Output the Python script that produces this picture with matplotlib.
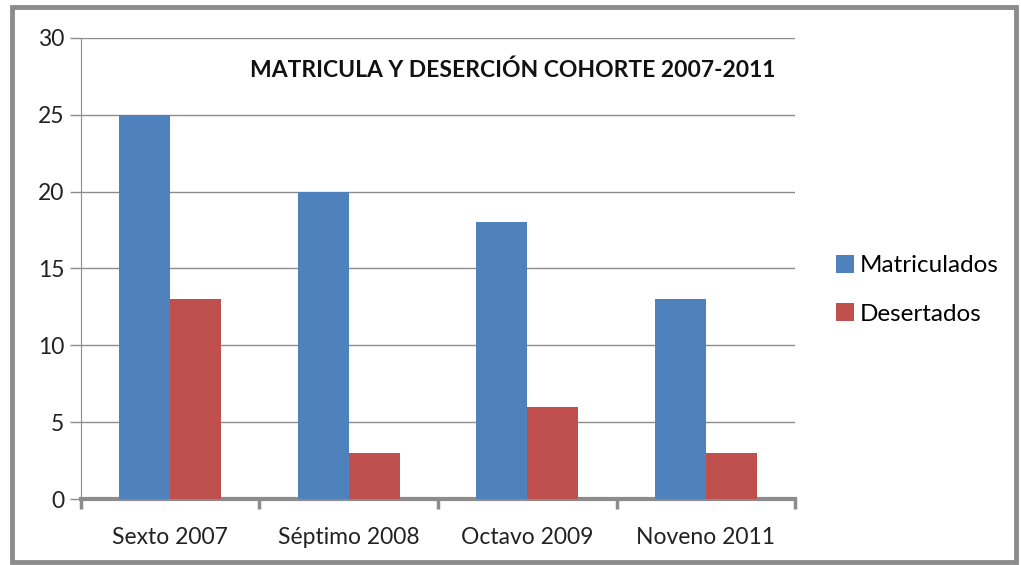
import matplotlib.pyplot as plt
import matplotlib.patches as mpatches
import numpy as np

# datos de la cohorte
categorias = ["Sexto 2007", "Séptimo 2008", "Octavo 2009", "Noveno 2011"]
matriculados = [25, 20, 18, 13]
desertados = [13, 3, 6, 3]
yticks = [0, 5, 10, 15, 20, 25, 30]

plt.rcParams['font.family'] = ['Lato', 'DejaVu Sans']

fig = plt.figure(figsize=(10.21, 5.65), dpi=100)
ax = fig.add_axes([0.0793, 0.1168, 0.6994, 0.816])

x = np.arange(len(categorias))
w = 0.285
b1 = ax.bar(x - w / 2, matriculados, w, color="#4f81bd", label="Matriculados", zorder=3)
b2 = ax.bar(x + w / 2, desertados, w, color="#c0504d", label="Desertados", zorder=3)

ax.set_xlim(-0.5, len(categorias) - 0.5)
ax.set_ylim(0, 30)
ax.set_yticks(yticks)
ax.set_yticklabels([str(v) for v in yticks], fontsize=16.5, color="#222222")
ax.yaxis.grid(True, color="#8c8c8c", linewidth=1.0, zorder=0)

# ticks del eje x entre categorias, etiquetas centradas
ax.set_xticks(np.arange(-0.5, len(categorias), 1.0))
ax.set_xticklabels([])
ax.set_xticks(x, minor=True)
ax.set_xticklabels(categorias, minor=True, fontsize=16.5, color="#222222")
ax.tick_params(axis="x", which="minor", length=0, pad=20)
ax.tick_params(axis="x", which="major", length=7, width=2.5, color="#8c8c8c")
ax.tick_params(axis="y", length=8, width=1, color="#8c8c8c", pad=4)

for s in ["top", "right"]:
    ax.spines[s].set_visible(False)
ax.spines["left"].set_color("#8c8c8c")
ax.spines["bottom"].set_color("#8c8c8c")
ax.spines["bottom"].set_linewidth(3)

ax.text(0.605, 0.93, "MATRICULA Y DESERCIÓN COHORTE 2007-2011", transform=ax.transAxes,
        ha="center", va="center", fontsize=16.5, fontweight="bold", color="#111111")

fig.legend(handles=[b1, b2], loc="center left", bbox_to_anchor=(0.797, 0.487),
           frameon=False, fontsize=17.5, handlelength=0.75, handleheight=0.75,
           handletextpad=0.25, labelspacing=1.1)

# marco exterior
fig.patches.append(mpatches.Rectangle((0.012, 0.006), 0.983, 0.981, transform=fig.transFigure,
                                      fill=False, edgecolor="#8c8c8c", linewidth=3.5))

fig.savefig("out.png", dpi=100)
